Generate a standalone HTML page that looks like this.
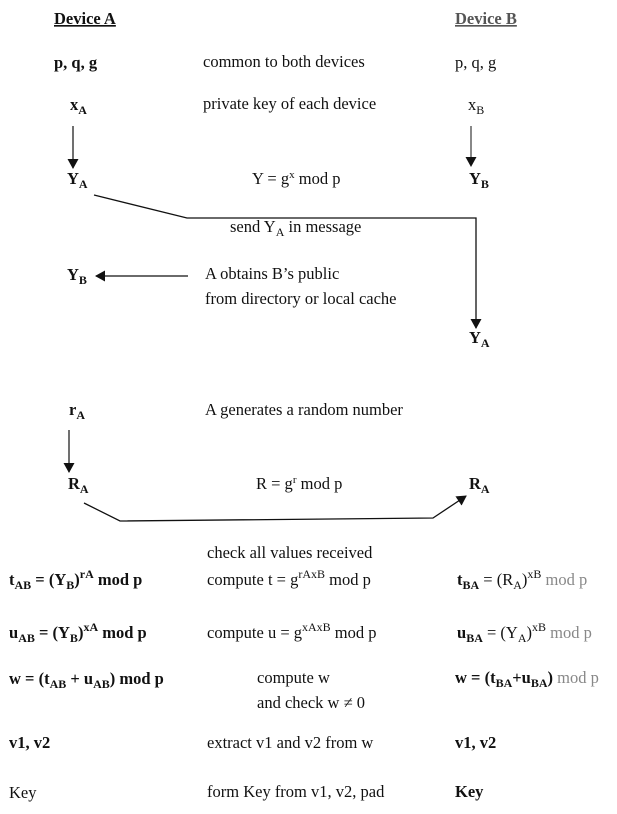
<!DOCTYPE html>
<html><head><meta charset="utf-8"><style>
html,body{margin:0;padding:0;background:#fff;}
svg{display:block;}
text{font-family:"Liberation Serif",serif;font-size:16.5px;fill:#111;}
.b{font-weight:bold;}
.g{fill:#888;}
</style></head><body>
<svg width="617" height="814" viewBox="0 0 617 814" xmlns="http://www.w3.org/2000/svg">
<defs>
<marker id="ah" markerWidth="10" markerHeight="11" refX="9" refY="5.5" orient="auto" markerUnits="userSpaceOnUse">
<path d="M0,0 L10,5.5 L0,11 z" fill="#111"/></marker>
</defs>
<text x="54" y="24" class="b" text-decoration="underline">Device A</text>
<text x="455" y="24" class="b" style="fill:#555" text-decoration="underline">Device B</text>

<text x="54" y="68" class="b">p, q, g</text>
<text x="203" y="67">common to both devices</text>
<text x="455" y="68">p, q, g</text>

<text x="70" y="110" class="b">x<tspan font-size="12" dy="4">A</tspan></text>
<text x="203" y="109">private key of each device</text>
<text x="468" y="110">x<tspan font-size="12" dy="4">B</tspan></text>

<line x1="73" y1="126" x2="73" y2="168" stroke="#111" stroke-width="1.2" marker-end="url(#ah)"/>
<line x1="471" y1="126" x2="471" y2="166" stroke="#111" stroke-width="1" marker-end="url(#ah)"/>

<text x="67" y="184" class="b">Y<tspan font-size="12" dy="4">A</tspan></text>
<text x="252" y="184">Y = g<tspan font-size="11" dy="-6">x</tspan><tspan dy="6"> mod p</tspan></text>
<text x="469" y="184" class="b">Y<tspan font-size="12" dy="4">B</tspan></text>

<polyline points="94,195 187,218 476,218 476,328" fill="none" stroke="#111" stroke-width="1.3" marker-end="url(#ah)"/>
<text x="230" y="232">send Y<tspan font-size="12" dy="4">A</tspan><tspan dy="-4"> in message</tspan></text>

<text x="67" y="280" class="b">Y<tspan font-size="12" dy="4">B</tspan></text>
<line x1="188" y1="276" x2="96" y2="276" stroke="#111" stroke-width="1.3" marker-end="url(#ah)"/>
<text x="205" y="279">A obtains B’s  public</text>
<text x="205" y="304">from directory or local cache</text>

<text x="469" y="343" class="b">Y<tspan font-size="12" dy="4">A</tspan></text>

<text x="69" y="415" class="b">r<tspan font-size="12" dy="4">A</tspan></text>
<text x="205" y="415">A generates a random number</text>
<line x1="69" y1="430" x2="69" y2="472" stroke="#111" stroke-width="1.2" marker-end="url(#ah)"/>

<text x="68" y="489" class="b">R<tspan font-size="12" dy="4">A</tspan></text>
<text x="256" y="489">R = g<tspan font-size="11" dy="-6">r</tspan><tspan dy="6"> mod p</tspan></text>
<text x="469" y="489" class="b">R<tspan font-size="12" dy="4">A</tspan></text>
<polyline points="84,503 120,521 433,518 466,496" fill="none" stroke="#111" stroke-width="1.3" marker-end="url(#ah)"/>

<text x="207" y="558">check all values received</text>

<text x="9" y="585" class="b">t<tspan font-size="12" dy="4">AB</tspan><tspan dy="-4"> = (Y</tspan><tspan font-size="12" dy="4">B</tspan><tspan dy="-4">)</tspan><tspan font-size="12" dy="-7">rA</tspan><tspan dy="7"> mod p</tspan></text>
<text x="207" y="585">compute t = g<tspan font-size="12" dy="-7">rAxB</tspan><tspan dy="7"> mod p</tspan></text>
<text x="457" y="585"><tspan class="b">t</tspan><tspan class="b" font-size="12" dy="4">BA</tspan><tspan dy="-4"> = (R</tspan><tspan font-size="12" dy="4">A</tspan><tspan dy="-4">)</tspan><tspan font-size="12" dy="-7">xB</tspan><tspan dy="7" class="g"> mod p</tspan></text>

<text x="9" y="638" class="b">u<tspan font-size="12" dy="4">AB</tspan><tspan dy="-4"> = (Y</tspan><tspan font-size="12" dy="4">B</tspan><tspan dy="-4">)</tspan><tspan font-size="12" dy="-7">xA</tspan><tspan dy="7"> mod p</tspan></text>
<text x="207" y="638">compute u = g<tspan font-size="12" dy="-7">xAxB</tspan><tspan dy="7"> mod p</tspan></text>
<text x="457" y="638"><tspan class="b">u</tspan><tspan class="b" font-size="12" dy="4">BA</tspan><tspan dy="-4"> = (Y</tspan><tspan font-size="12" dy="4">A</tspan><tspan dy="-4">)</tspan><tspan font-size="12" dy="-7">xB</tspan><tspan dy="7" class="g"> mod p</tspan></text>

<text x="9" y="684" class="b">w = (t<tspan font-size="12" dy="4">AB</tspan><tspan dy="-4"> + u</tspan><tspan font-size="12" dy="4">AB</tspan><tspan dy="-4">) mod p</tspan></text>
<text x="257" y="683">compute w</text>
<text x="257" y="708">and check w ≠ 0</text>
<text x="455" y="683" class="b">w = (t<tspan font-size="12" dy="4">BA</tspan><tspan dy="-4">+u</tspan><tspan font-size="12" dy="4">BA</tspan><tspan dy="-4">)</tspan><tspan class="g" font-weight="normal"> mod p</tspan></text>

<text x="9" y="748" class="b">v1, v2</text>
<text x="207" y="748">extract v1 and v2 from w</text>
<text x="455" y="748" class="b">v1, v2</text>

<text x="9" y="798">Key</text>
<text x="207" y="797">form Key from v1, v2, pad</text>
<text x="455" y="797" class="b">Key</text>
</svg>
</body></html>
